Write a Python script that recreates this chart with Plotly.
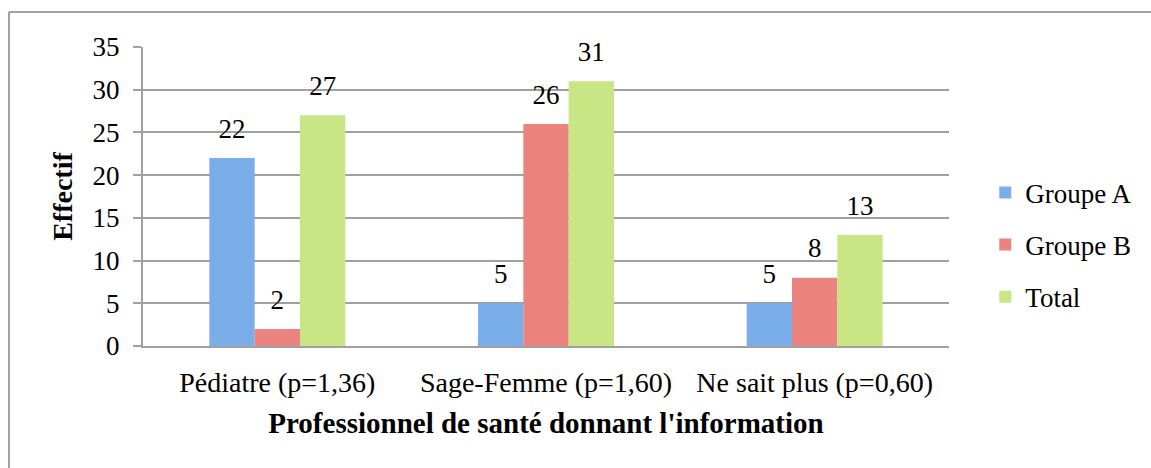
import plotly.graph_objects as go

categories = ["Pédiatre (p=1,36)", "Sage-Femme (p=1,60)", "Ne sait plus (p=0,60)"]
series_names = ["Groupe A", "Groupe B", "Total"]
groupe_a = [22, 5, 5]
groupe_b = [2, 26, 8]
total = [27, 31, 13]
y_ticks = [0, 5, 10, 15, 20, 25, 30, 35]

colors = ["#7aaeea", "#eb837e", "#c8e683"]
FONT = "Liberation Serif"
FS = 27

fig = go.Figure()
for name, vals, col in zip(series_names, [groupe_a, groupe_b, total], colors):
    fig.add_trace(go.Bar(
        x=categories, y=vals, name=name, marker=dict(color=col, line=dict(width=0)),
        offsetgroup=name, legendgroup=name,
    ))
for name, vals in zip(series_names, [groupe_a, groupe_b, total]):
    fig.add_trace(go.Scatter(
        x=categories, y=vals, mode="markers+text", text=[str(v) for v in vals],
        textposition="top center", textfont=dict(family=FONT, size=FS, color="black"),
        marker=dict(size=20, opacity=0), offsetgroup=name, showlegend=False,
        hoverinfo="skip", cliponaxis=False,
    ))

fig.update_layout(
    width=1151, height=468,
    barmode="group", scattermode="group", bargap=0.494, bargroupgap=0,
    plot_bgcolor="white", paper_bgcolor="white",
    margin=dict(l=143, r=202, t=47, b=122),
    font=dict(family=FONT, size=FS, color="black"),
    showlegend=True,
    legend=dict(x=1.045, y=0.338, xanchor="left", yanchor="middle",
                font=dict(family=FONT, size=FS), tracegroupgap=14,
                bgcolor="rgba(0,0,0,0)"),
    xaxis=dict(
        title=dict(text="<b>Professionnel de santé donnant l'information</b>",
                   font=dict(family=FONT, size=29), standoff=16),
        showgrid=False, showline=True, linecolor="#a0a0a0", linewidth=2,
        ticks="", tickfont=dict(family=FONT, size=28), ticklabelstandoff=10,
    ),
    yaxis=dict(
        title=dict(text="<b>Effectif</b>", font=dict(family=FONT, size=28), standoff=12),
        range=[0, 35], tickvals=y_ticks, showgrid=True, gridcolor="#a0a0a0", gridwidth=2,
        showline=True, linecolor="#a0a0a0", linewidth=2, ticks="outside", ticklen=8,
        tickcolor="#a0a0a0", tickwidth=2, zeroline=False, tickfont=dict(family=FONT, size=FS),
        ticklabelstandoff=8,
    ),
    shapes=[
        dict(type="line", xref="paper", yref="paper", x0=-0.1663, x1=1.26, y0=1.117, y1=1.117,
             line=dict(color="#a0a0a0", width=2)),
        dict(type="line", xref="paper", yref="paper", x0=-0.1663, x1=-0.1663, y0=1.117, y1=-0.41,
             line=dict(color="#a0a0a0", width=2)),
    ],
)

fig.write_html("out.html", config={"displayModeBar": False},
               post_script="document.body.style.margin='0';")
